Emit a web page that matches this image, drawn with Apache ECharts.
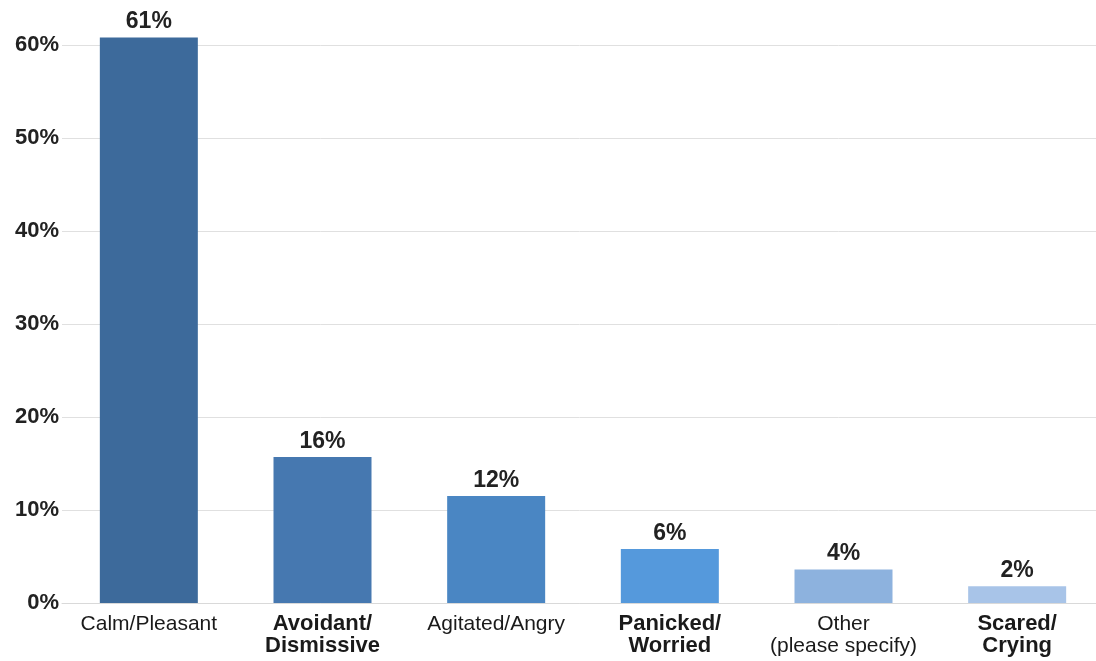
<!DOCTYPE html>
<html>
<head>
<meta charset="utf-8">
<script src="https://cdn.jsdelivr.net/npm/echarts@6/dist/echarts.min.js"></script>
<style>html,body{margin:0;padding:0;background:#fff;}#c{width:1096px;height:661px;}</style>
</head>
<body>
<div id="c"></div>
<script>
const categories = ['Calm/Pleasant', 'Avoidant/\nDismissive', 'Agitated/Angry', 'Panicked/\nWorried', 'Other\n(please specify)', 'Scared/\nCrying'];
const values = [60.8, 15.7, 11.5, 5.8, 3.6, 1.8];
const valueLabels = ['61%', '16%', '12%', '6%', '4%', '2%'];
const boldLabel = [false, true, false, true, false, true];
const barColors = ['#3d6a9b', '#4678b0', '#4a86c3', '#5599dc', '#8db2de', '#a8c4e8'];

const chart = echarts.init(document.getElementById('c'), null, {renderer: 'canvas'});
chart.setOption({
  animation: false,
  backgroundColor: '#ffffff',
  grid: {left: 62, top: -48, width: 1042, height: 651, containLabel: false, outerBoundsMode: 'none'},
  xAxis: {
    type: 'category',
    data: categories,
    axisLine: {show: true, lineStyle: {color: '#d9d9d9', width: 1}},
    axisTick: {show: false},
    axisLabel: {
      interval: 0,
      margin: 10,
      lineHeight: 22,
      fontFamily: 'Liberation Sans, Arial, sans-serif',
      formatter: function (v, i) { return (boldLabel[i] ? '{b|' : '{n|') + v.split('\n').join('}\n' + (boldLabel[i] ? '{b|' : '{n|')) + '}'; },
      rich: {
        b: {fontSize: 22, fontWeight: 'bold', color: '#1a1a1a', lineHeight: 22, fontFamily: 'Liberation Sans, Arial, sans-serif'},
        n: {fontSize: 21, fontWeight: 'normal', color: '#1a1a1a', lineHeight: 22, fontFamily: 'Liberation Sans, Arial, sans-serif'}
      }
    }
  },
  yAxis: {
    type: 'value',
    min: 0,
    max: 70,
    interval: 10,
    axisLine: {show: false},
    axisTick: {show: false},
    splitLine: {lineStyle: {color: '#e0e0e0', width: 1}},
    axisLabel: {
      formatter: '{value}%',
      margin: 3,
      fontSize: 22,
      fontWeight: 'bold',
      color: '#222222',
      fontFamily: 'Liberation Sans, Arial, sans-serif'
    }
  },
  series: [{
    type: 'bar',
    data: values.map(function (v, i) { return {value: v, itemStyle: {color: barColors[i]}}; }),
    barWidth: 98,
    label: {
      show: true,
      position: 'top',
      distance: 4,
      formatter: function (p) { return valueLabels[p.dataIndex]; },
      fontSize: 23,
      fontWeight: 'bold',
      color: '#222222',
      fontFamily: 'Liberation Sans, Arial, sans-serif'
    }
  }]
});
</script>
</body>
</html>
